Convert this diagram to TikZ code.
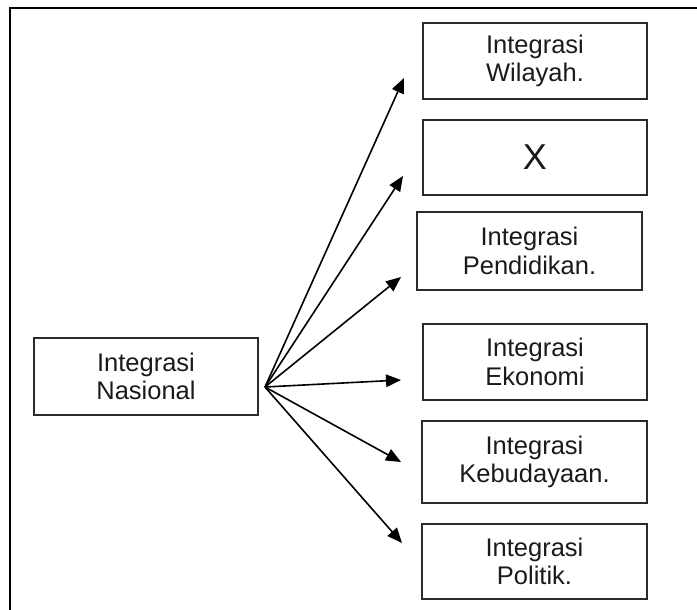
\documentclass[tikz,border=0pt]{standalone}
\usepackage{fontspec}
\setmainfont{Liberation Sans}
\usetikzlibrary{arrows.meta}
\definecolor{ink}{HTML}{1A1A1A}
\definecolor{boxline}{HTML}{2A2A2A}
\begin{document}
\begin{tikzpicture}[x=1pt,y=-1pt,
  box/.style={draw=boxline,line width=1.8pt,rectangle,inner sep=0pt,align=center,
    text=ink,font=\fontsize{25.5}{28.5}\selectfont},
  conn/.style={line width=1.6pt,-{Triangle[length=15pt,width=12.5pt]}}]
\useasboundingbox (0,0) rectangle (697,610);
% frame
\draw[line width=2.2pt] (697,8) -- (10,8) -- (10,610);
% nodes
\node[box,minimum width=224pt,minimum height=77pt] (nas) at (146,376.5) {Integrasi\\Nasional};
\node[box,minimum width=224pt,minimum height=76pt] (wil) at (535,61) {Integrasi\\Wilayah.};
\node[box,minimum width=224pt,minimum height=75pt,font=\fontsize{36}{36}\selectfont] (x) at (535,157.5) {X};
\node[box,minimum width=225pt,minimum height=78pt] (pen) at (529.5,251) {Integrasi\\Pendidikan.};
\node[box,minimum width=224pt,minimum height=76pt] (eko) at (535,362) {Integrasi\\Ekonomi};
\node[box,minimum width=225pt,minimum height=82pt] (keb) at (534.5,462) {Integrasi\\Kebudayaan.};
\node[box,minimum width=225pt,minimum height=75pt] (pol) at (534.5,561.5) {Integrasi\\Politik.};
% connector endpoints
\coordinate (o) at (265,387);
\coordinate (t1) at (404,78);
\coordinate (t2) at (403,176);
\coordinate (t3) at (401,277);
\coordinate (t4) at (401,380);
\coordinate (t5) at (401,462);
\coordinate (t6) at (402,543);
\foreach \t in {t1,t2,t3,t4,t5,t6} \draw[conn] (o) -- (\t);
\end{tikzpicture}
\end{document}
